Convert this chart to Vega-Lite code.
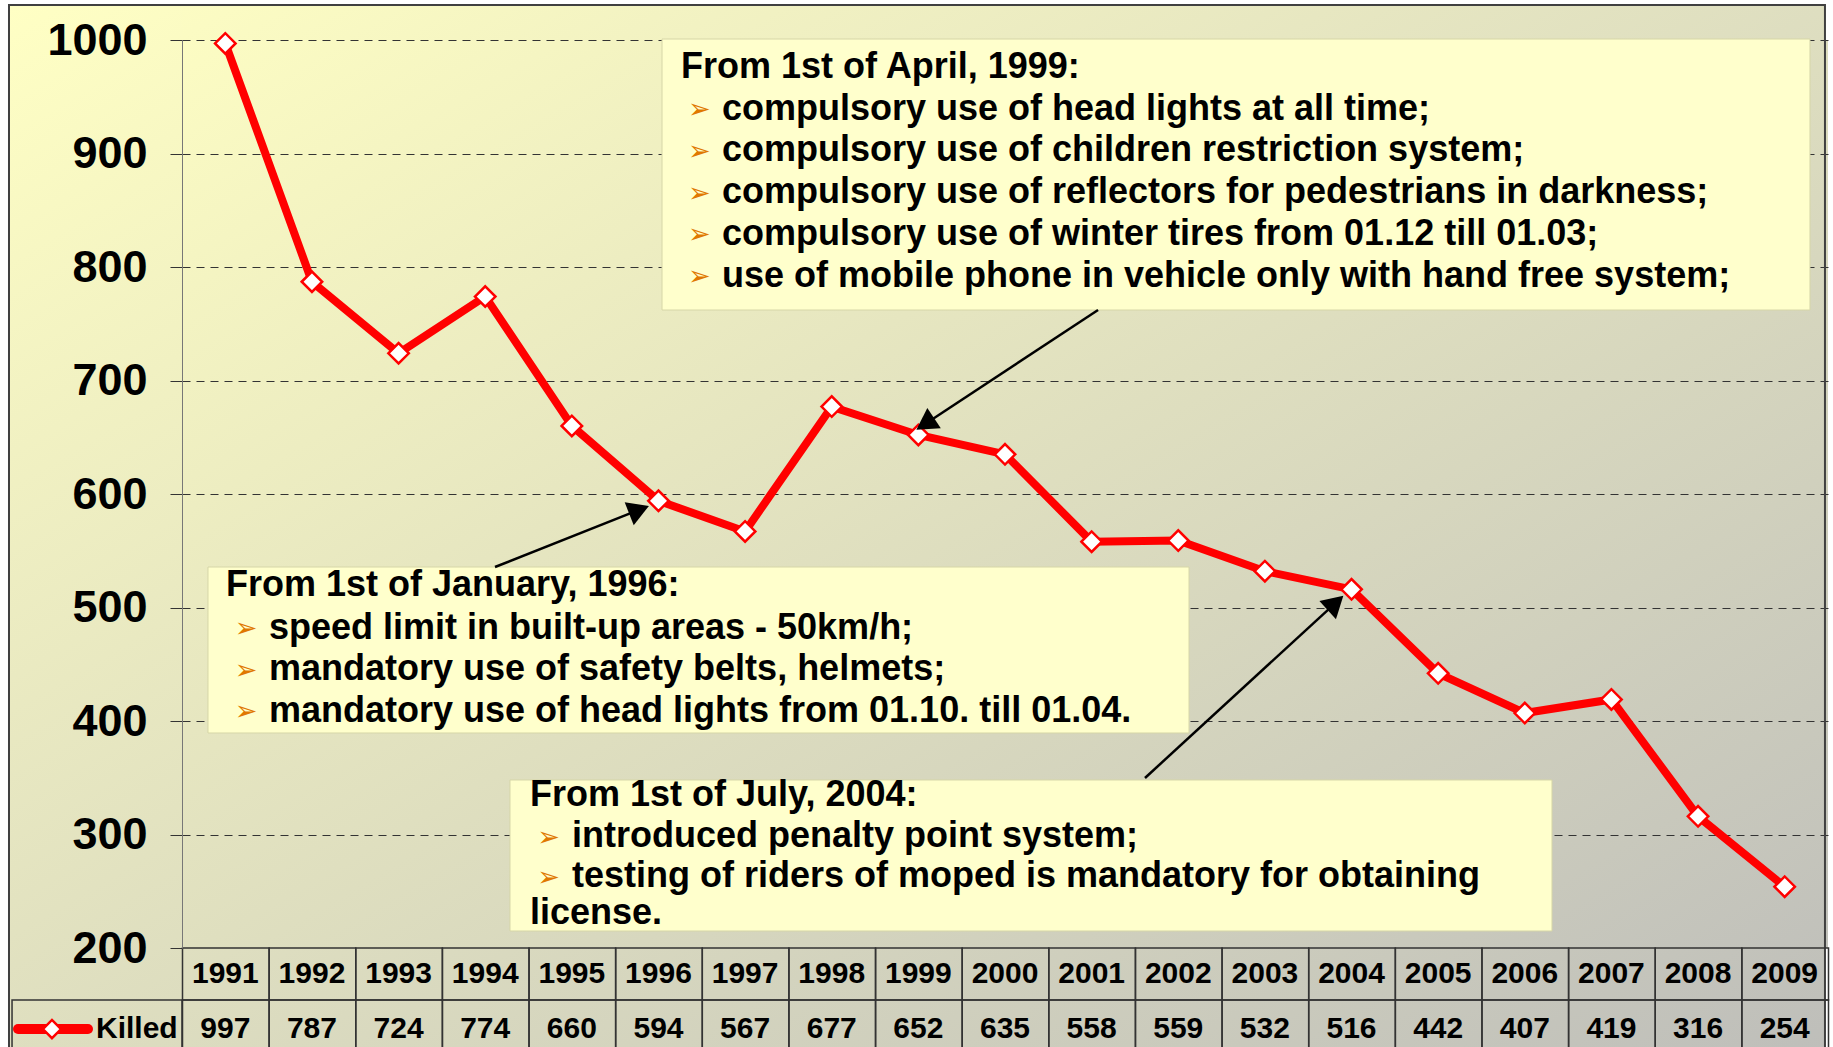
{
"$schema":"https://vega.github.io/schema/vega-lite/v6.json",
"width":1646,"height":908,
"autosize":{"type":"none"},
"padding":{"left":182,"top":40,"right":5,"bottom":99},
"background":"#ffffff",
"view":{"stroke":null,"fill":{"gradient":"linear","x1":0,"y1":0,"x2":1.025,"y2":0.9733,"stops":[{"offset":0,"color":"#fcfcc3"},{"offset":1,"color":"#c1c1bb"}]}},
"config":{"font":"Liberation Sans"},
"data":{"values":[
{"year":1991,"killed":997},{"year":1992,"killed":787},{"year":1993,"killed":724},{"year":1994,"killed":774},
{"year":1995,"killed":660},{"year":1996,"killed":594},{"year":1997,"killed":567},{"year":1998,"killed":677},
{"year":1999,"killed":652},{"year":2000,"killed":635},{"year":2001,"killed":558},{"year":2002,"killed":559},
{"year":2003,"killed":532},{"year":2004,"killed":516},{"year":2005,"killed":442},{"year":2006,"killed":407},
{"year":2007,"killed":419},{"year":2008,"killed":316},{"year":2009,"killed":254}]},
"resolve":{"axis":{"y":"independent"}},
"layer":[
{"data":{"values":[{}]},"mark":{"type":"rect","strokeWidth":0,"fill":{"gradient":"linear","x1":0,"y1":0,"x2":0.1034,"y2":1.0854,"stops":[{"offset":0,"color":"#ffffc4"},{"offset":1,"color":"#dbdbbf"}]}},
 "encoding":{"x":{"datum":1988.503,"type":"quantitative","axis":null},"x2":{"datum":1990.5},"y":{"datum":1030.84,"type":"quantitative","axis":null},"y2":{"datum":101.3}}},
{"data":{"values":[{}]},"mark":{"type":"rect","strokeWidth":0,"fill":{"gradient":"linear","x1":0,"y1":0,"x2":1.035,"y2":0.038,"stops":[{"offset":0,"color":"#fcfcc3"},{"offset":1,"color":"#ddddc0"}]}},
 "encoding":{"x":{"datum":1990.5,"type":"quantitative","axis":null},"x2":{"datum":2009.465},"y":{"datum":1030.84,"type":"quantitative","axis":null},"y2":{"datum":1000}}},
{"data":{"values":[{}]},"mark":{"type":"rect","strokeWidth":0,"fill":{"gradient":"linear","x1":0,"y1":0,"x2":1.102,"y2":0.1293,"stops":[{"offset":0,"color":"#dfdfc0"},{"offset":1,"color":"#bebeba"}]}},
 "encoding":{"x":{"datum":1990.5,"type":"quantitative","axis":null},"x2":{"datum":2009.465},"y":{"datum":200,"type":"quantitative","axis":null},"y2":{"datum":101.3}}},
{"data":{"values":[{}]},"mark":{"type":"rect","filled":false,"stroke":"#404040","strokeWidth":2},
 "encoding":{"x":{"datum":1988.503,"type":"quantitative","axis":null},"x2":{"datum":2009.465},"y":{"datum":1030.84,"type":"quantitative","axis":null},"y2":{"datum":101.3}}},
{"mark":{"type":"rect","filled":false,"stroke":"#333333","strokeWidth":1.5},
 "encoding":{"x":{"field":"year","type":"quantitative","bin":{"step":1,"extent":[1990.5,2009.5],"nice":false},"axis":null,"title":null},"y":{"datum":200,"type":"quantitative","axis":null},"y2":{"datum":154.2}}},
{"mark":{"type":"rect","filled":false,"stroke":"#333333","strokeWidth":1.5},
 "encoding":{"x":{"field":"year","type":"quantitative","bin":{"step":1,"extent":[1990.5,2009.5],"nice":false},"axis":null,"title":null},"y":{"datum":154.2,"type":"quantitative","axis":null},"y2":{"datum":101.3}}},
{"data":{"values":[{}]},"mark":{"type":"rect","filled":false,"stroke":"#333333","strokeWidth":1.5},
 "encoding":{"x":{"datum":1988.538,"type":"quantitative","axis":null},"x2":{"datum":1990.5},"y":{"datum":154.2,"type":"quantitative","axis":null},"y2":{"datum":101.3}}},
{"data":{"values":[{}]},"mark":{"type":"rect","fill":"#ffffcc","stroke":"#d6d6a8","strokeWidth":1},
 "encoding":{"x":{"datum":1996.041,"type":"quantitative","axis":null},"x2":{"datum":2009.292},"y":{"datum":1000.88,"type":"quantitative","axis":null},"y2":{"datum":762.11}}},
{"data":{"values":[{}]},"mark":{"type":"rect","fill":"#ffffcc","stroke":"#d6d6a8","strokeWidth":1},
 "encoding":{"x":{"datum":1990.8,"type":"quantitative","axis":null},"x2":{"datum":2002.124},"y":{"datum":535.68,"type":"quantitative","axis":null},"y2":{"datum":389.43}}},
{"data":{"values":[{}]},"mark":{"type":"rect","fill":"#ffffcc","stroke":"#d6d6a8","strokeWidth":1},
 "encoding":{"x":{"datum":1994.286,"type":"quantitative","axis":null},"x2":{"datum":2006.314},"y":{"datum":348.02,"type":"quantitative","axis":null},"y2":{"datum":214.98}}},
{"mark":{"type":"line","color":"#ff0000","strokeWidth":8},
 "encoding":{
  "x":{"field":"year","type":"quantitative","scale":{"domain":[1990.5,2009.5],"nice":false,"zero":false},"axis":null},
  "y":{"field":"killed","type":"quantitative","scale":{"domain":[200,1000],"nice":false,"zero":false},
       "axis":{"orient":"left","grid":true,"labels":false,"ticks":false,"domain":false,"title":null,"values":[300,400,500,600,700,800,900,1000],"gridColor":"#333333","gridDash":[8,6],"gridWidth":1.2,"zindex":0}}}},
{"mark":{"type":"point","shape":"diamond","filled":true,"fill":"#ffffff","stroke":"#ff0000","strokeWidth":2.5,"size":420,"opacity":1},
 "encoding":{
  "x":{"field":"year","type":"quantitative","axis":null},
  "y":{"field":"killed","type":"quantitative",
       "axis":{"orient":"left","grid":false,"title":null,"format":"d","values":[200,300,400,500,600,700,800,900,1000],"labelFontSize":45,"labelFontWeight":"bold","labelColor":"#000000","labelFont":"Liberation Sans","labelPadding":23,"tickSize":12,"tickColor":"#333333","domainColor":"#777777","domainWidth":1,"labelFlush":false,"labelOverlap":false,"labelBaseline":"middle","zindex":1}}}},
{"mark":{"type":"text","fontSize":30,"fontWeight":"bold","font":"Liberation Sans","color":"#000000","align":"center","baseline":"middle"},
 "encoding":{"x":{"field":"year","type":"quantitative","axis":null},"y":{"datum":177.1,"type":"quantitative","axis":null},"text":{"field":"year","type":"nominal"}}},
{"mark":{"type":"text","fontSize":30,"fontWeight":"bold","font":"Liberation Sans","color":"#000000","align":"center","baseline":"middle"},
 "encoding":{"x":{"field":"year","type":"quantitative","axis":null},"y":{"datum":128.6,"type":"quantitative","axis":null},"text":{"field":"killed","type":"quantitative"}}},
{"data":{"values":[{}]},"mark":{"type":"rule","color":"#ff0000","strokeWidth":10,"strokeCap":"round"},
 "encoding":{"x":{"datum":1988.607,"type":"quantitative","axis":null},"x2":{"datum":1989.415},"y":{"datum":128.6,"type":"quantitative","axis":null}}},
{"data":{"values":[{}]},"mark":{"type":"point","shape":"diamond","filled":true,"fill":"#ffffff","stroke":"#ff0000","strokeWidth":2.5,"size":330,"opacity":1},
 "encoding":{"x":{"datum":1988.999,"type":"quantitative","axis":null},"y":{"datum":128.6,"type":"quantitative","axis":null}}},
{"data":{"values":[{}]},"mark":{"type":"text","text":"Killed","fontSize":30,"fontWeight":"bold","font":"Liberation Sans","color":"#000000","align":"left","baseline":"middle"},
 "encoding":{"x":{"datum":1989.507,"type":"quantitative","axis":null},"y":{"datum":128.6,"type":"quantitative","axis":null}}},
{"data":{"values":[{}]},"mark":{"type":"text","text":"From 1st of April, 1999:","fontSize":36,"fontWeight":"bold","font":"Liberation Sans","color":"#000000","align":"left","baseline":"middle"},
 "encoding":{"x":{"datum":1996.26,"type":"quantitative","axis":null},"y":{"datum":976.2,"type":"quantitative","axis":null}}},
{"data":{"values":[{}]},"mark":{"type":"text","text":["➢","➢","➢","➢","➢"],"fontSize":27,"font":"DejaVu Sans","color":"#e07800","align":"left","baseline":"top","lineHeight":41.75},
 "encoding":{"x":{"datum":1996.34,"type":"quantitative","axis":null},"y":{"datum":949.6,"type":"quantitative","axis":null}}},
{"data":{"values":[{}]},"mark":{"type":"text","text":["compulsory use of head lights at all time;","compulsory use of children restriction system;","compulsory use of reflectors for pedestrians in darkness;","compulsory use of winter tires from 01.12 till 01.03;","use of mobile phone in vehicle only with hand free system;"],"fontSize":36,"fontWeight":"bold","font":"Liberation Sans","color":"#000000","align":"left","baseline":"top","lineHeight":41.75},
 "encoding":{"x":{"datum":1996.733,"type":"quantitative","axis":null},"y":{"datum":954.5,"type":"quantitative","axis":null}}},
{"data":{"values":[{}]},"mark":{"type":"text","text":"From 1st of January, 1996:","fontSize":36,"fontWeight":"bold","font":"Liberation Sans","color":"#000000","align":"left","baseline":"middle"},
 "encoding":{"x":{"datum":1991.008,"type":"quantitative","axis":null},"y":{"datum":519.8,"type":"quantitative","axis":null}}},
{"data":{"values":[{}]},"mark":{"type":"text","text":["➢","➢","➢"],"fontSize":27,"font":"DejaVu Sans","color":"#e07800","align":"left","baseline":"top","lineHeight":41.5},
 "encoding":{"x":{"datum":1991.11,"type":"quantitative","axis":null},"y":{"datum":492.3,"type":"quantitative","axis":null}}},
{"data":{"values":[{}]},"mark":{"type":"text","text":["speed limit in built-up areas - 50km/h;","mandatory use of safety belts, helmets;","mandatory use of head lights from 01.10. till 01.04."],"fontSize":36,"fontWeight":"bold","font":"Liberation Sans","color":"#000000","align":"left","baseline":"top","lineHeight":41.5},
 "encoding":{"x":{"datum":1991.504,"type":"quantitative","axis":null},"y":{"datum":497.3,"type":"quantitative","axis":null}}},
{"data":{"values":[{}]},"mark":{"type":"text","text":"From 1st of July, 2004:","fontSize":36,"fontWeight":"bold","font":"Liberation Sans","color":"#000000","align":"left","baseline":"middle"},
 "encoding":{"x":{"datum":1994.517,"type":"quantitative","axis":null},"y":{"datum":334.8,"type":"quantitative","axis":null}}},
{"data":{"values":[{}]},"mark":{"type":"text","text":["➢","➢"],"fontSize":27,"font":"DejaVu Sans","color":"#e07800","align":"left","baseline":"top","lineHeight":40},
 "encoding":{"x":{"datum":1994.6,"type":"quantitative","axis":null},"y":{"datum":308.2,"type":"quantitative","axis":null}}},
{"data":{"values":[{}]},"mark":{"type":"text","text":["introduced penalty point system;","testing of riders of moped is mandatory for obtaining"],"fontSize":36,"fontWeight":"bold","font":"Liberation Sans","color":"#000000","align":"left","baseline":"top","lineHeight":40},
 "encoding":{"x":{"datum":1995.002,"type":"quantitative","axis":null},"y":{"datum":314.0,"type":"quantitative","axis":null}}},
{"data":{"values":[{}]},"mark":{"type":"text","text":"license.","fontSize":36,"fontWeight":"bold","font":"Liberation Sans","color":"#000000","align":"left","baseline":"middle"},
 "encoding":{"x":{"datum":1994.517,"type":"quantitative","axis":null},"y":{"datum":230.5,"type":"quantitative","axis":null}}},
{"data":{"values":[{}]},"mark":{"type":"rule","color":"#000000","strokeWidth":2.5},
 "encoding":{"x":{"datum":2001.074,"type":"quantitative","axis":null},"x2":{"datum":1999.113},"y":{"datum":762.1,"type":"quantitative","axis":null},"y2":{"datum":663.4}}},
{"data":{"values":[{}]},"mark":{"type":"rule","color":"#000000","strokeWidth":2.5},
 "encoding":{"x":{"datum":1994.113,"type":"quantitative","axis":null},"x2":{"datum":1995.738},"y":{"datum":535.7,"type":"quantitative","axis":null},"y2":{"datum":584.9}}},
{"data":{"values":[{}]},"mark":{"type":"rule","color":"#000000","strokeWidth":2.5},
 "encoding":{"x":{"datum":2001.616,"type":"quantitative","axis":null},"x2":{"datum":2003.785},"y":{"datum":349.8,"type":"quantitative","axis":null},"y2":{"datum":501.9}}},
{"data":{"values":[{}]},"mark":{"type":"point","shape":"triangle","filled":true,"color":"#000000","size":600,"angle":236.6,"opacity":1,"strokeWidth":0},
 "encoding":{"x":{"datum":1999.113,"type":"quantitative","axis":null},"y":{"datum":663.4,"type":"quantitative","axis":null}}},
{"data":{"values":[{}]},"mark":{"type":"point","shape":"triangle","filled":true,"color":"#000000","size":600,"angle":68.3,"opacity":1,"strokeWidth":0},
 "encoding":{"x":{"datum":1995.738,"type":"quantitative","axis":null},"y":{"datum":584.9,"type":"quantitative","axis":null}}},
{"data":{"values":[{}]},"mark":{"type":"point","shape":"triangle","filled":true,"color":"#000000","size":600,"angle":47.5,"opacity":1,"strokeWidth":0},
 "encoding":{"x":{"datum":2003.785,"type":"quantitative","axis":null},"y":{"datum":501.9,"type":"quantitative","axis":null}}}
]
}
